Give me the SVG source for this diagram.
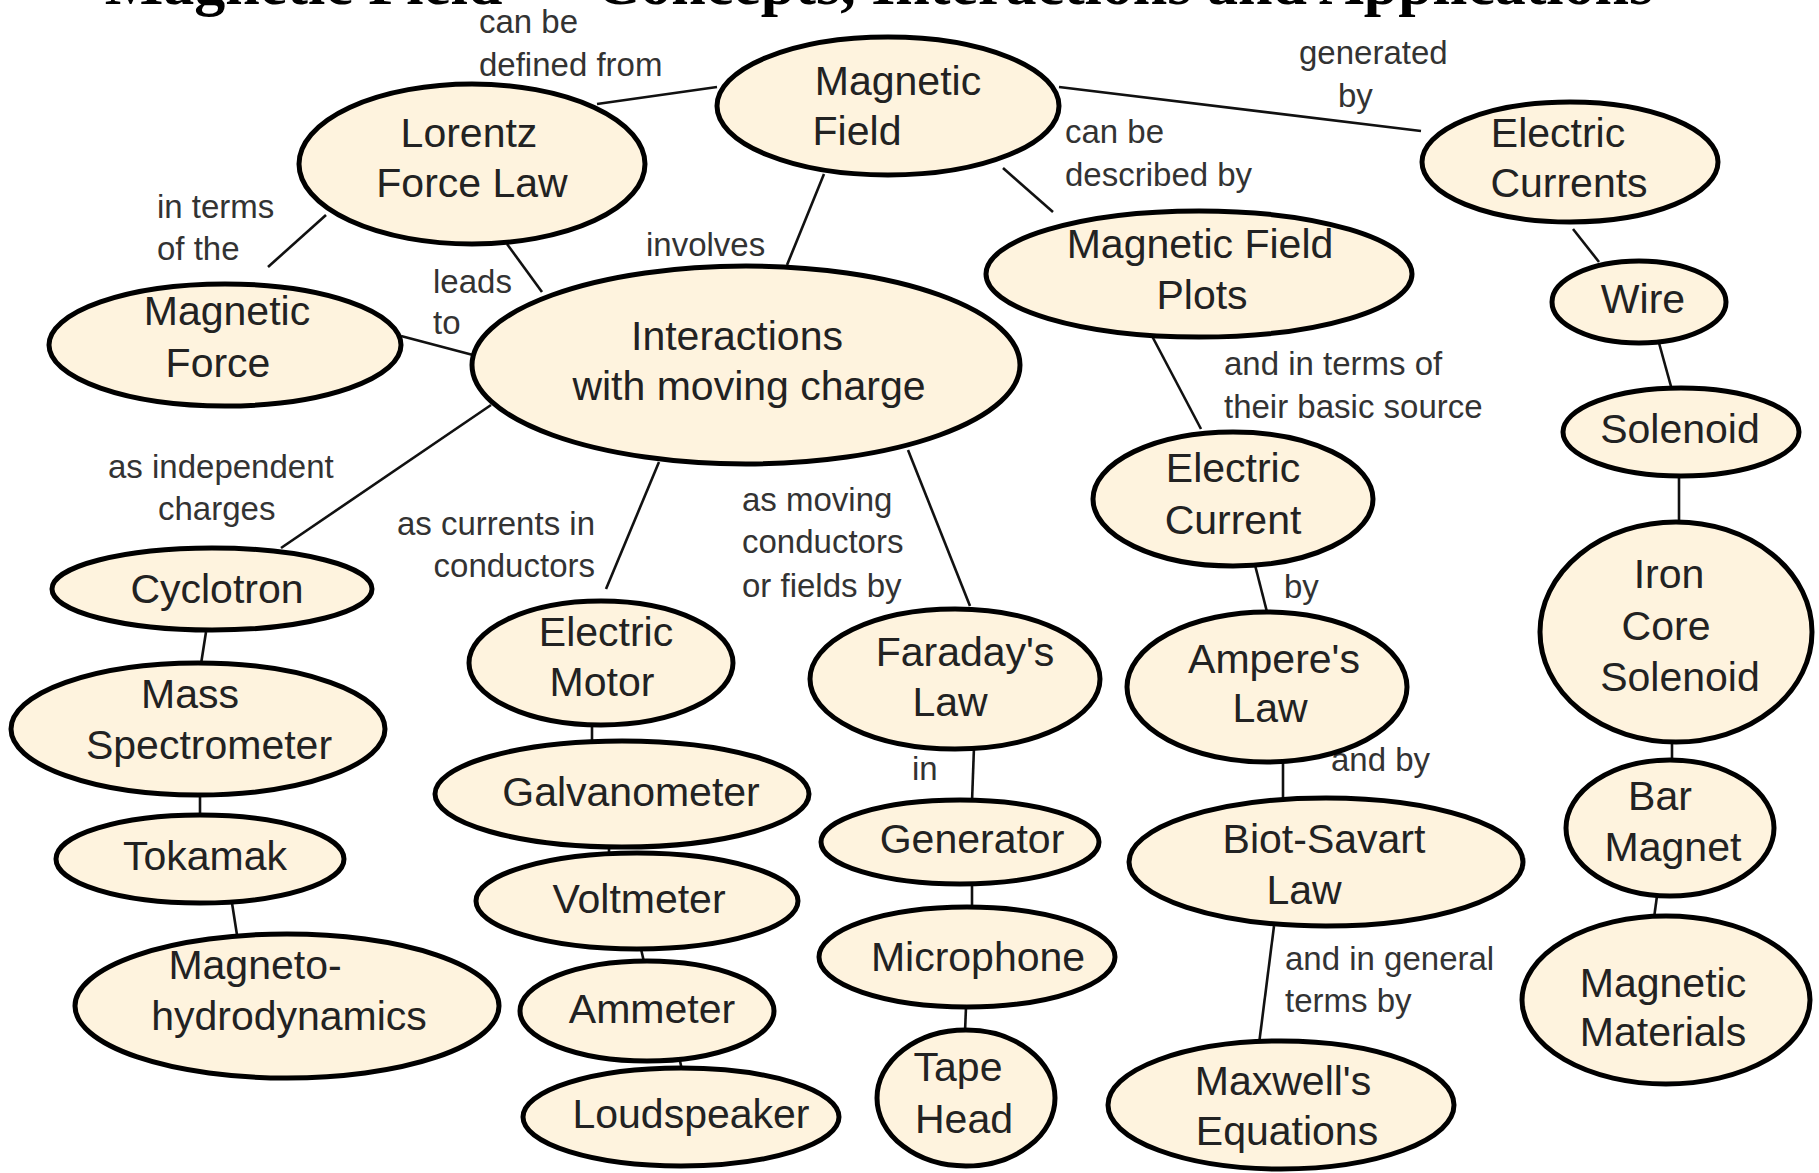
<svg xmlns="http://www.w3.org/2000/svg" width="1819" height="1173" viewBox="0 0 1819 1173">
<style>
.n ellipse{fill:#FEF3DE;stroke:#000;stroke-width:5}
.n text{font-family:"Liberation Sans",Arial,sans-serif;font-size:41px;fill:#222;text-anchor:middle}
.c line{stroke:#111;stroke-width:2.6}
.l{font-family:"Liberation Sans",Arial,sans-serif;font-size:33px;fill:#333}
.t{font-family:"Liberation Serif","Times New Roman",serif;font-size:62px;font-weight:bold;fill:#000;text-anchor:middle}
</style>
<rect width="1819" height="1173" fill="#fff"/>
<text class="t" x="879" y="4">Magnetic Field — Concepts, Interactions and Applications</text>
<g id="connectors" class="c">
<line x1="597" y1="104" x2="717" y2="87"/>
<line x1="1059" y1="87" x2="1421" y2="131"/>
<line x1="1003" y1="168" x2="1053" y2="212"/>
<line x1="824" y1="174" x2="787" y2="265"/>
<line x1="326" y1="215" x2="268" y2="267"/>
<line x1="507" y1="244" x2="542" y2="292"/>
<line x1="401" y1="336" x2="473" y2="355"/>
<line x1="491" y1="405" x2="281" y2="548"/>
<line x1="659" y1="462" x2="606" y2="589"/>
<line x1="908" y1="450" x2="970" y2="606"/>
<line x1="1152" y1="336" x2="1201" y2="429"/>
<line x1="1573" y1="229" x2="1599" y2="262"/>
<line x1="1659" y1="343" x2="1672" y2="390"/>
<line x1="1679" y1="476" x2="1679" y2="522"/>
<line x1="1672" y1="742" x2="1672" y2="760"/>
<line x1="1657" y1="896" x2="1654" y2="918"/>
<line x1="1255" y1="565" x2="1267" y2="612"/>
<line x1="1283" y1="761" x2="1283" y2="800"/>
<line x1="1274" y1="926" x2="1259" y2="1044"/>
<line x1="974" y1="747" x2="972" y2="802"/>
<line x1="972" y1="884" x2="972" y2="907"/>
<line x1="966" y1="1007" x2="965" y2="1032"/>
<line x1="206" y1="632" x2="201" y2="664"/>
<line x1="200" y1="795" x2="200" y2="816"/>
<line x1="232" y1="903" x2="237" y2="935"/>
<line x1="592" y1="725" x2="592" y2="742"/>
<line x1="609" y1="847" x2="609" y2="855"/>
<line x1="641" y1="949" x2="644" y2="962"/>
<line x1="680" y1="1061" x2="682" y2="1070"/>
</g>
<g id="labels">
<text class="l" x="479" y="33">can be</text>
<text class="l" x="479" y="76">defined from</text>
<text class="l" x="1299" y="64">generated</text>
<text class="l" x="1338" y="107">by</text>
<text class="l" x="1065" y="143">can be</text>
<text class="l" x="1065" y="186">described by</text>
<text class="l" x="157" y="218">in terms</text>
<text class="l" x="157" y="260">of the</text>
<text class="l" x="646" y="256">involves</text>
<text class="l" x="433" y="293">leads</text>
<text class="l" x="433" y="334">to</text>
<text class="l" x="1224" y="375">and in terms of</text>
<text class="l" x="1224" y="418">their basic source</text>
<text class="l" x="108" y="478">as independent</text>
<text class="l" x="158" y="520">charges</text>
<text class="l" x="595" y="535" text-anchor="end">as currents in</text>
<text class="l" x="595" y="577" text-anchor="end">conductors</text>
<text class="l" x="742" y="511">as moving</text>
<text class="l" x="742" y="553">conductors</text>
<text class="l" x="742" y="597">or fields by</text>
<text class="l" x="1284" y="598">by</text>
<text class="l" x="912" y="780">in</text>
<text class="l" x="1331" y="771">and by</text>
<text class="l" x="1285" y="970">and in general</text>
<text class="l" x="1285" y="1012">terms by</text>
</g>
<g id="magnetic-field" class="n"><ellipse cx="888" cy="106" rx="171" ry="69"/><text x="898" y="95">Magnetic</text><text x="857" y="145">Field</text></g>
<g id="lorentz" class="n"><ellipse cx="472" cy="164" rx="173" ry="80"/><text x="469" y="147">Lorentz</text><text x="472" y="197">Force Law</text></g>
<g id="electric-currents" class="n"><ellipse cx="1570" cy="162" rx="148" ry="60"/><text x="1558" y="147">Electric</text><text x="1569" y="197">Currents</text></g>
<g id="mf-plots" class="n"><ellipse cx="1199" cy="274" rx="213" ry="63"/><text x="1200" y="258">Magnetic Field</text><text x="1202" y="309">Plots</text></g>
<g id="interactions" class="n"><ellipse cx="746" cy="365" rx="274" ry="99"/><text x="737" y="350">Interactions</text><text x="749" y="400">with moving charge</text></g>
<g id="magnetic-force" class="n"><ellipse cx="225" cy="345" rx="176" ry="61"/><text x="227" y="325">Magnetic</text><text x="218" y="377">Force</text></g>
<g id="wire" class="n"><ellipse cx="1639" cy="302" rx="87" ry="41"/><text x="1643" y="313">Wire</text></g>
<g id="solenoid" class="n"><ellipse cx="1681" cy="432" rx="118" ry="44"/><text x="1680" y="443">Solenoid</text></g>
<g id="electric-current" class="n"><ellipse cx="1233" cy="499" rx="140" ry="67"/><text x="1233" y="482">Electric</text><text x="1233" y="534">Current</text></g>
<g id="iron-core" class="n"><ellipse cx="1676" cy="632" rx="136" ry="110"/><text x="1669" y="588">Iron</text><text x="1666" y="640">Core</text><text x="1680" y="691">Solenoid</text></g>
<g id="cyclotron" class="n"><ellipse cx="212" cy="589" rx="160" ry="41"/><text x="217" y="603">Cyclotron</text></g>
<g id="electric-motor" class="n"><ellipse cx="601" cy="663" rx="132" ry="62"/><text x="606" y="646">Electric</text><text x="602" y="696">Motor</text></g>
<g id="faraday" class="n"><ellipse cx="955" cy="679" rx="145" ry="70"/><text x="965" y="666">Faraday's</text><text x="950" y="716">Law</text></g>
<g id="ampere" class="n"><ellipse cx="1267" cy="687" rx="140" ry="75"/><text x="1274" y="673">Ampere's</text><text x="1270" y="722">Law</text></g>
<g id="mass-spec" class="n"><ellipse cx="198" cy="729" rx="187" ry="66"/><text x="190" y="708">Mass</text><text x="209" y="759">Spectrometer</text></g>
<g id="galvanometer" class="n"><ellipse cx="622" cy="794" rx="187" ry="53"/><text x="631" y="806">Galvanometer</text></g>
<g id="generator" class="n"><ellipse cx="960" cy="842" rx="139" ry="42"/><text x="972" y="853">Generator</text></g>
<g id="biot-savart" class="n"><ellipse cx="1326" cy="862" rx="197" ry="64"/><text x="1324" y="853">Biot-Savart</text><text x="1304" y="904">Law</text></g>
<g id="bar-magnet" class="n"><ellipse cx="1670" cy="828" rx="104" ry="68"/><text x="1660" y="810">Bar</text><text x="1673" y="861">Magnet</text></g>
<g id="tokamak" class="n"><ellipse cx="200" cy="859" rx="144" ry="44"/><text x="205" y="870">Tokamak</text></g>
<g id="voltmeter" class="n"><ellipse cx="637" cy="901" rx="161" ry="48"/><text x="639" y="913">Voltmeter</text></g>
<g id="microphone" class="n"><ellipse cx="967" cy="957" rx="148" ry="50"/><text x="978" y="971">Microphone</text></g>
<g id="magneto" class="n"><ellipse cx="287" cy="1006" rx="212" ry="72"/><text x="255" y="979">Magneto-</text><text x="289" y="1030">hydrodynamics</text></g>
<g id="ammeter" class="n"><ellipse cx="647" cy="1011" rx="127" ry="50"/><text x="652" y="1023">Ammeter</text></g>
<g id="magnetic-materials" class="n"><ellipse cx="1666" cy="1000" rx="144" ry="84"/><text x="1663" y="997">Magnetic</text><text x="1663" y="1046">Materials</text></g>
<g id="maxwell" class="n"><ellipse cx="1281" cy="1105" rx="173" ry="64"/><text x="1283" y="1095">Maxwell's</text><text x="1287" y="1145">Equations</text></g>
<g id="tape-head" class="n"><ellipse cx="966" cy="1098" rx="89" ry="68"/><text x="958" y="1081">Tape</text><text x="964" y="1133">Head</text></g>
<g id="loudspeaker" class="n"><ellipse cx="681" cy="1117" rx="158" ry="49"/><text x="691" y="1128">Loudspeaker</text></g>
</svg>
